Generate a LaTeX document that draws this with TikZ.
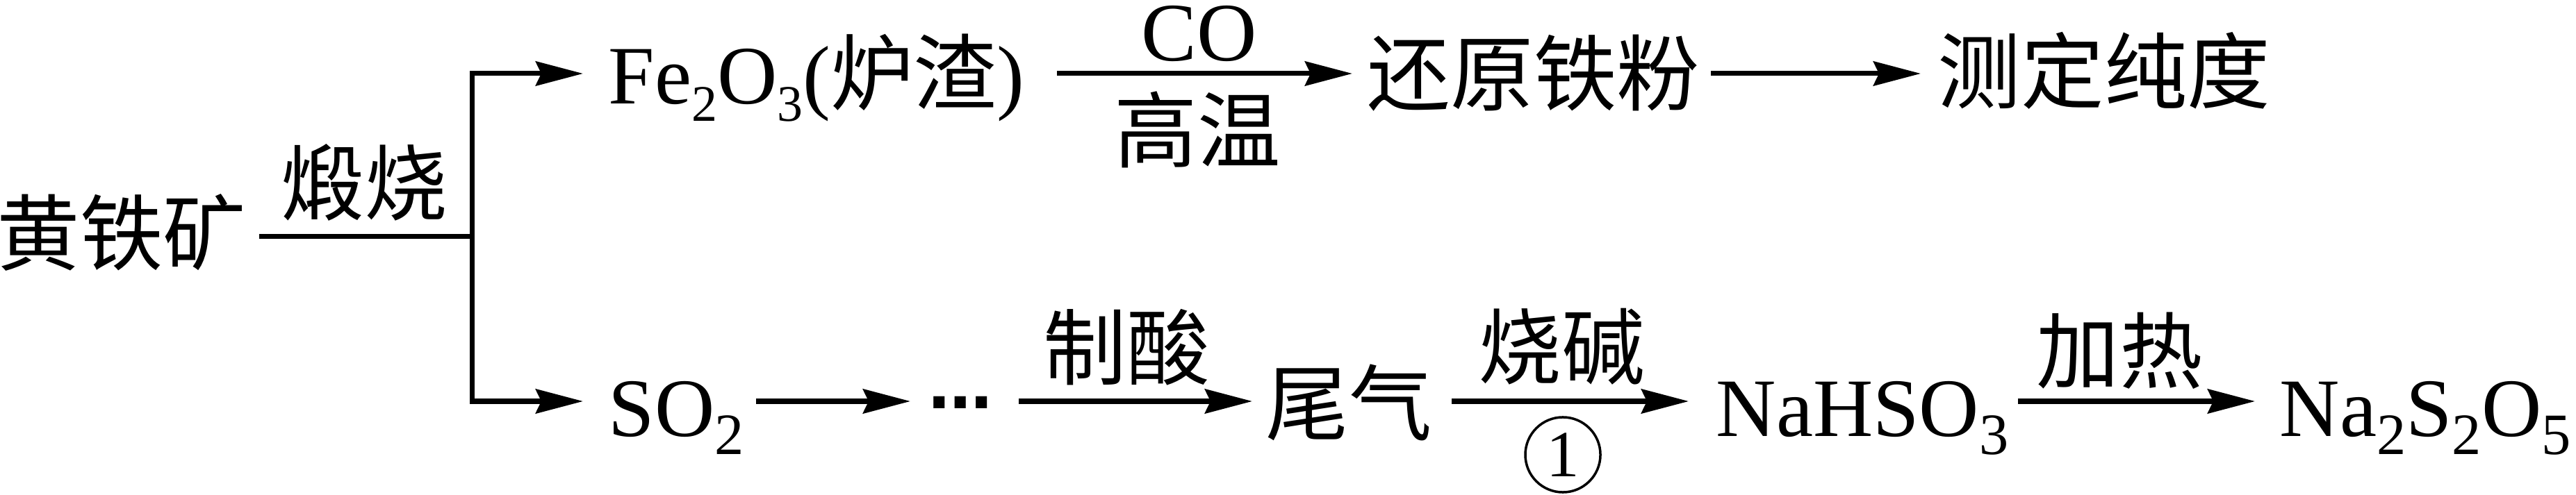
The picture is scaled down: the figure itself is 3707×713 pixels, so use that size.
\documentclass[tikz,border=0pt]{standalone}
\usepackage{fontspec}
\setmainfont{Liberation Serif}
\newfontfamily\cjk{Noto Sans CJK SC}
\newfontfamily\dvs{DejaVu Sans}
\usetikzlibrary{arrows.meta}
\newcommand{\subT}[1]{\raisebox{-7pt}{\fontsize{21}{21}\selectfont #1}}
\newcommand{\subB}[1]{\raisebox{-7.4pt}{\fontsize{24}{24}\selectfont #1}}
\begin{document}
\begin{tikzpicture}[x=0.01cm,y=-0.01cm,
  arr/.style={-{Stealth[length=0.68cm,width=0.35cm,inset=0.08cm]}, line width=0.07cm},
  plain/.style={line width=0.07cm},
  zh/.style={inner sep=0pt, font=\fontsize{34}{40}\selectfont\cjk},
  chem/.style={inner sep=0pt, anchor=base west, font=\fontsize{34}{40}\selectfont},
]
\useasboundingbox (0,0) rectangle (3707,713);
% nodes
\node[zh] (ore) at (175,335) {黄铁矿};
\node[zh] (cal) at (524,263) {煅烧};
\node[chem] (fe) at (875,150) {Fe\subT{2}O\subT{3}({\cjk 炉渣})};
\node[chem, anchor=base] (co) at (1726,88) {CO};
\node[zh] (gw) at (1723,187) {高温};
\node[zh] (fep) at (2207,105) {还原铁粉};
\node[zh] (pur) at (3028,102) {测定纯度};
\node[chem] (so2) at (875,628) {SO\subB{2}};
\node[inner sep=0pt, font=\fontsize{26}{26}\selectfont\dvs\bfseries] (dots) at (1382,580) {…};
\node[zh] (acid) at (1621,500) {制酸};
\node[zh] (tail) at (1941,580) {尾气};
\node[zh] (naoh) at (2247,499) {烧碱};
\node[circle, draw, line width=0.035cm, minimum size=1.08cm, inner sep=0pt, font=\fontsize{27}{27}\selectfont] (c1) at (2249,655) {1};
\node[chem] (nahso3) at (2469,628) {NaHSO\subB{3}};
\node[zh] (heat) at (3050,505) {加热};
\node[chem] (na2s2o5) at (3280,628) {Na\subB{2}S\subB{2}O\subB{5}};
% connector ends
\coordinate (oreR) at (373,341);
\coordinate (split) at (679,341);
\coordinate (feL) at (839,106);
\coordinate (so2L) at (839,578);
\coordinate (feR) at (1521,106);
\coordinate (fepL) at (1946,106);
\coordinate (fepR) at (2462,106);
\coordinate (purL) at (2764,106);
\coordinate (so2R) at (1088,578);
\coordinate (dotsL) at (1310,578);
\coordinate (dotsR) at (1466,578);
\coordinate (tailL) at (1802,578);
\coordinate (tailR) at (2089,578);
\coordinate (nahL) at (2430,578);
\coordinate (nahR) at (2904,578);
\coordinate (naL) at (3245,578);
% connectors
\draw[plain] (oreR) -- (split);
\draw[arr] (split) |- (feL);
\draw[arr] (split) |- (so2L);
\draw[arr] (feR) -- (fepL);
\draw[arr] (fepR) -- (purL);
\draw[arr] (so2R) -- (dotsL);
\draw[arr] (dotsR) -- (tailL);
\draw[arr] (tailR) -- (nahL);
\draw[arr] (nahR) -- (naL);
\end{tikzpicture}
\end{document}
